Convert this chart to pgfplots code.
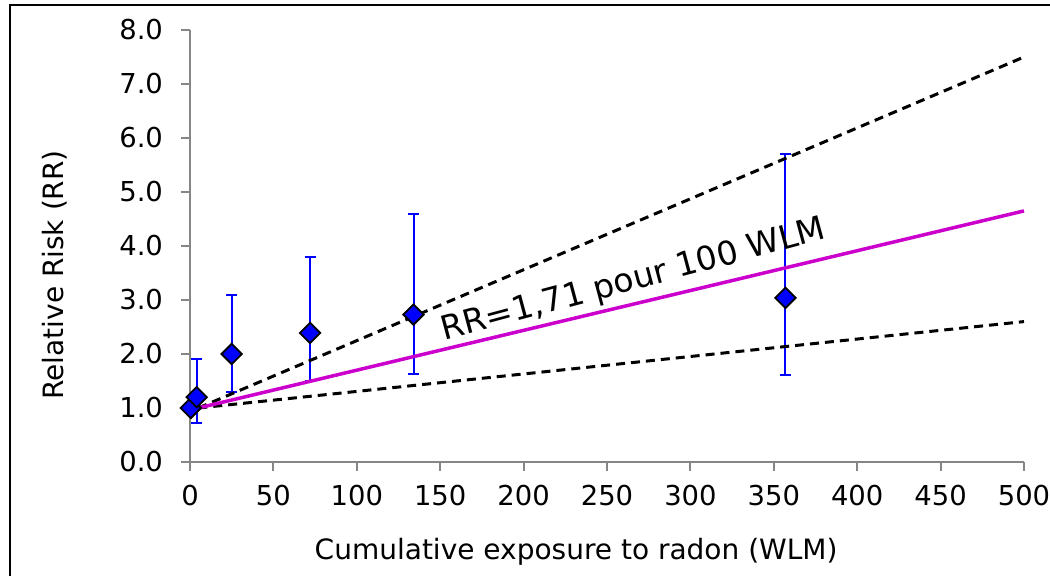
\documentclass[border=0pt]{standalone}
\usepackage{pgfplots}
\pgfplotsset{compat=1.18}
\usepackage{fontspec}
\setmainfont{DejaVu Sans}
\definecolor{axgray}{RGB}{134,134,134}
\definecolor{mag}{RGB}{204,0,204}
\begin{document}
\begin{tikzpicture}
\useasboundingbox (-95pt,-57pt) rectangle (430pt,231pt);
\draw[line width=1pt] (-90pt,-60pt) -- (-90pt,228.5pt) -- (433pt,228.5pt);
\begin{axis}[
  at={(0,0)}, anchor=south west,
  scale only axis, width=417pt, height=216pt,
  xmin=0, xmax=500, ymin=0, ymax=8,
  axis x line*=bottom, axis y line*=left,
  axis line style={axgray, line width=1pt, -},
  xtick={0,50,...,500}, ytick={0,1,...,8},
  tick align=outside, major tick length=4.5pt,
  tick style={axgray, line width=1pt},
  /pgf/number format/assume math mode=true,
  yticklabel={\pgfmathprintnumber[fixed,fixed zerofill,precision=1]{\tick}},
  ticklabel style={font=\fontsize{13.7}{16}\selectfont},
  yticklabel style={xshift=-5.5pt},
  xticklabel style={yshift=-3.5pt},
  xlabel={Cumulative exposure to radon (WLM)},
  ylabel={Relative Risk (RR)},
  label style={font=\fontsize{14}{16}\selectfont},
  xlabel style={at={(axis description cs:0.463,-0.208)}, anchor=center},
  ylabel style={at={(axis description cs:-0.162,0.433)}, anchor=center},
  clip=false,
]
% error bars
\addplot[blue, line width=1pt, only marks, mark=none, forget plot,
  error bars/.cd, y dir=both, y explicit,
  error bar style={draw=blue, line width=1pt, solid},
  error mark options={rotate=90, draw=blue, line width=1pt, mark size=2.75pt}]
  table[x=x, y=y, y error plus=ep, y error minus=em] {
x y ep em
4 1.20 0.70 0.47
25 2.00 1.10 0.70
72 2.39 1.40 0.89
134 2.73 1.86 1.10
357 3.04 2.66 1.42
};
\addplot[black, line width=1.5pt, dash pattern=on 4.5pt off 3pt] coordinates {(5,1.0) (500,7.5)};
\addplot[black, line width=1.5pt, dash pattern=on 4.5pt off 3pt] coordinates {(5,1.0) (500,2.6)};
\addplot[mag, line width=1.75pt] coordinates {(5,1.0) (500,4.65)};
\addplot[only marks, mark=square*, mark size=3.6pt,
  mark options={rotate=45, fill=blue, draw=black, line width=0.9pt}]
  table[x=x, y=y] {
x y
0.5 1.00
4 1.20
25 2.00
72 2.39
134 2.73
357 3.04
};
\node[rotate=15, font=\fontsize{16.5}{19}\selectfont] at (axis cs:266,3.35) {RR=1,71 pour 100 WLM};
\end{axis}
\end{tikzpicture}
\end{document}
